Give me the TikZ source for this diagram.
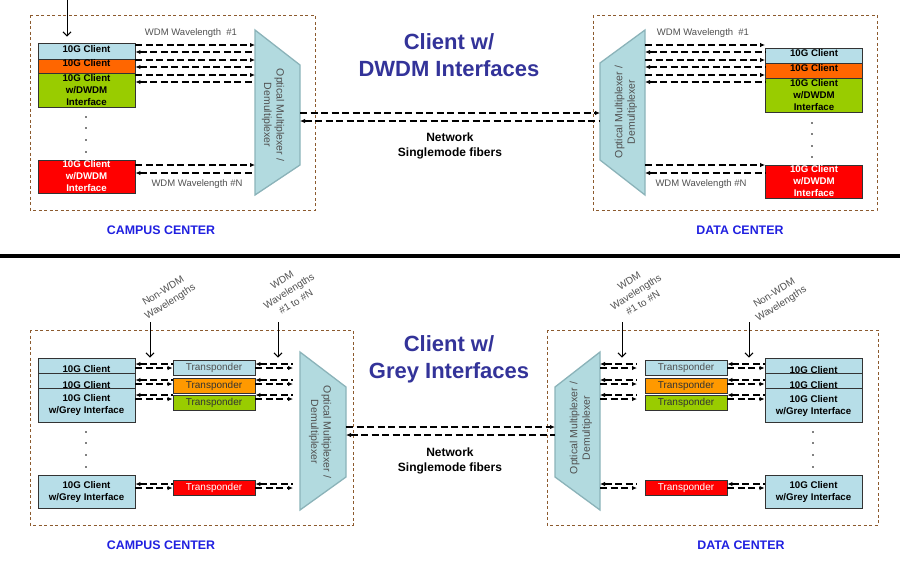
\documentclass[tikz,border=0pt]{standalone}
\usepackage{fontspec}
\setmainfont{Liberation Sans}
\usetikzlibrary{arrows,arrows.meta,calc}
\definecolor{ltblue}{HTML}{B7DEE8}
\definecolor{orngA}{HTML}{FF6600}
\definecolor{orngB}{HTML}{FF9900}
\definecolor{lime}{HTML}{99CC00}
\definecolor{redbox}{HTML}{FF0000}
\definecolor{muxfill}{HTML}{B2DADF}
\definecolor{muxline}{HTML}{8BB3B9}
\definecolor{siteline}{HTML}{8C5A2E}
\definecolor{titleblue}{HTML}{333399}
\definecolor{siteblue}{HTML}{2020E0}
\definecolor{txtgrey}{HTML}{505050}
\tikzset{
  cbox/.style={draw=black!80, line width=0.9pt, minimum width=97pt, inner sep=0pt,
    align=center, font=\fontsize{9.7}{12}\selectfont\bfseries},
  ctxt/.style={inner sep=0pt, font=\fontsize{9.7}{12}\selectfont\bfseries},
  tbox/.style={draw=black!80, line width=0.9pt, minimum width=82pt, minimum height=15pt,
    inner sep=0pt, font=\fontsize{10}{11}\selectfont},
  mux/.style={draw=muxline, fill=muxfill, line width=1.3pt},
  mtxt/.style={text=txtgrey, align=center, inner sep=0pt, font=\fontsize{10.5}{12.5}\selectfont},
  site/.style={draw=siteline, dash pattern=on 3pt off 2.5pt, line width=1pt},
  fib/.style={dash pattern=on 7pt off 3.5pt, line width=1.1pt},
  lbl/.style={text=txtgrey, inner sep=0pt, align=center, font=\fontsize{9.5}{11}\selectfont},
  rlbl/.style={text=txtgrey, inner sep=0pt, align=center, font=\fontsize{10}{13}\selectfont},
  ttl/.style={text=titleblue, align=center, font=\fontsize{22}{27}\selectfont\bfseries},
  net/.style={align=center, font=\fontsize{12}{15}\selectfont\bfseries},
  sitelbl/.style={text=siteblue, font=\fontsize{12.4}{14}\selectfont\bfseries},
  down/.style={-{Straight Barb[length=4pt,width=8pt]}, line width=1pt}
}
\begin{document}
\begin{tikzpicture}[x=1pt,y=-1pt,>={Latex[length=5pt,width=4.5pt]}]
  \useasboundingbox (0,0) rectangle (900,560);
  % ===== client w/ DWDM interfaces
  \draw[site] (30,15) rectangle (315,210);
  \draw[site] (593,15) rectangle (877,210);
  % campus side
  \node[cbox, fill=ltblue, minimum height=19pt] (dA) at (86.5,52.5) {};
  \node[ctxt] (dAt) at ([yshift=3.5pt]dA.center) {10G Client};
  \node[cbox, fill=orngA, minimum height=14pt] (dB) at (86.5,66) {};
  \node[ctxt] (dBt) at ([yshift=3pt]dB.center) {10G Client};
  \node[cbox, fill=lime, minimum height=34pt] (dC) at (86.5,90) {10G Client\\w/DWDM\\Interface};
  \node[cbox, fill=redbox, text=white, minimum height=33pt] (dD) at (86.5,176.5) {10G Client\\w/DWDM\\Interface};
  \foreach \y in {117,128,140,152} \fill (86,\y) circle (0.8);
  \draw[mux] (255,30) -- (300,65) -- (300,165) -- (255,195) -- cycle;
  \coordinate (mxAw) at (255,112); \coordinate (mxAe) at (300,115);
  \node[mtxt, rotate=-90] (mxAt) at (273,115) {Optical Multiplexer /\\Demultiplexer};
  \coordinate (topIn) at (67,0);
  \draw[down, shorten >=6pt] (topIn) -- (topIn |- dA.north);
  \foreach \y in {45,60,75} \draw[fib,->] (dA.east |- 0,\y) -- (mxAw |- 0,\y);
  \foreach \y in {52,67,82} \draw[fib,<-] (dA.east |- 0,\y) -- (mxAw |- 0,\y);
  \draw[fib,->] (dD.east |- 0,165) -- (mxAw |- 0,165);
  \draw[fib,<-] (dD.east |- 0,173) -- (mxAw |- 0,173);
  \node[lbl] (wlA1) at (191,33) {WDM Wavelength \ \#1};
  \node[lbl] (wlAN) at (197,184) {WDM Wavelength \#N};
  % data center side
  \node[cbox, fill=ltblue, minimum height=15pt] (eA) at (814,55.5) {};
  \node[ctxt] (eAt) at ([yshift=2.5pt]eA.center) {10G Client};
  \node[cbox, fill=orngA, minimum height=15pt] (eB) at (814,70.5) {};
  \node[ctxt] (eBt) at ([yshift=2.5pt]eB.center) {10G Client};
  \node[cbox, fill=lime, minimum height=34pt] (eC) at (814,95) {10G Client\\w/DWDM\\Interface};
  \node[cbox, fill=redbox, text=white, minimum height=33pt] (eD) at (814,181.5) {10G Client\\w/DWDM\\Interface};
  \foreach \y in {123,134,146,157} \fill (812,\y) circle (0.8);
  \draw[mux] (600,63) -- (645,30) -- (645,195) -- (600,160) -- cycle;
  \coordinate (mxBw) at (600,112); \coordinate (mxBe) at (645,112);
  \node[mtxt, rotate=90] (mxBt) at (626,112) {Optical Multiplexer /\\Demultiplexer};
  \foreach \y in {45,60,75} \draw[fib,->] (mxBe |- 0,\y) -- (eA.west |- 0,\y);
  \foreach \y in {52,67,82} \draw[fib,<-] (mxBe |- 0,\y) -- (eA.west |- 0,\y);
  \draw[fib,->] (mxBe |- 0,165) -- (eD.west |- 0,165);
  \draw[fib,<-] (mxBe |- 0,173) -- (eD.west |- 0,173);
  \node[lbl] (wlB1) at (703,33) {WDM Wavelength \ \#1};
  \node[lbl] (wlBN) at (701,184) {WDM Wavelength \#N};
  % network
  \draw[fib,->] (mxAe |- 0,113) -- (mxBw |- 0,113);
  \draw[fib,<-] (mxAe |- 0,121) -- (mxBw |- 0,121);
  \node[ttl] (ttlA) at (449,55) {Client w/\\DWDM Interfaces};
  \node[net] (netA) at (450,145.5) {Network\\Singlemode fibers};
  \node[sitelbl] (campA) at (161,230) {CAMPUS CENTER};
  \node[sitelbl] (dataA) at (740,230) {DATA CENTER};
  % ===== separator
  \draw[line width=4pt] (0,255.5) -- (900,255.5);
  % ===== client w/ grey interfaces
  \draw[site] (30,330) rectangle (353,525);
  \draw[site] (547,330) rectangle (878,525);
  % campus side
  \node[cbox, fill=ltblue, minimum height=15pt] (gA) at (86.5,365.5) {};
  \node[ctxt] (gAt) at ([yshift=-3.5pt]gA.center) {10G Client};
  \node[cbox, fill=ltblue, minimum height=15pt] (gB) at (86.5,380.5) {};
  \node[ctxt] (gBt) at ([yshift=-4.5pt]gB.center) {10G Client};
  \node[cbox, fill=ltblue, minimum height=34pt] (gC) at (86.5,405) {10G Client\\w/Grey Interface};
  \node[cbox, fill=ltblue, minimum height=33pt] (gD) at (86.5,491.5) {10G Client\\w/Grey Interface};
  \foreach \y in {432,443,455,467} \fill (86,\y) circle (0.8);
  \node[tbox, fill=ltblue, text=txtgrey] (tA) at (214,367.5) {Transponder};
  \node[tbox, fill=orngB, text=black!80] (tB) at (214,385.5) {Transponder};
  \node[tbox, fill=lime, text=black!80] (tC) at (214,403) {Transponder};
  \node[tbox, fill=redbox, text=white] (tD) at (214,487.5) {Transponder};
  \draw[mux] (300,352) -- (346,387) -- (346,477) -- (300,510) -- cycle;
  \coordinate (mxCin) at (293,430); \coordinate (mxCe) at (346,430);
  \node[mtxt, rotate=-90] (mxCt) at (320,432) {Optical Multiplexer /\\Demultiplexer};
  \foreach \c/\t/\y in {gA/tA/364,gB/tB/380,gC/tC/395,gD/tD/484}{
    \draw[fib,<-] (\c.east |- 0,\y) -- (\t.west |- 0,\y);
    \draw[fib,->] (\c.east |- 0,\y+4) -- (\t.west |- 0,\y+4);
    \draw[fib,<-] (\t.east |- 0,\y) -- (mxCin |- 0,\y);
    \draw[fib,->] (\t.east |- 0,\y+4) -- (mxCin |- 0,\y+4);
  }
  \node[rlbl, rotate=32] (nwLt) at (167,297) {Non-WDM\\Wavelengths};
  \node[rlbl, rotate=32] (wdLt) at (289,291) {WDM\\Wavelengths\\\#1 to \#N};
  \coordinate (nwL) at (150,322); \coordinate (wdL) at (278,322);
  \draw[down, shorten >=2pt] (nwL) -- (nwL |- tA.north);
  \draw[down, shorten >=2pt] (wdL) -- (wdL |- tA.north);
  % data center side
  \node[cbox, fill=ltblue, minimum height=15pt] (hA) at (813.5,366) {};
  \node[ctxt] (hAt) at ([yshift=-4pt]hA.center) {10G Client};
  \node[cbox, fill=ltblue, minimum height=15pt] (hB) at (813.5,380.5) {};
  \node[ctxt] (hBt) at ([yshift=-4.5pt]hB.center) {10G Client};
  \node[cbox, fill=ltblue, minimum height=34pt] (hC) at (813.5,405.5) {10G Client\\w/Grey Interface};
  \node[cbox, fill=ltblue, minimum height=33pt] (hD) at (813.5,491.5) {10G Client\\w/Grey Interface};
  \foreach \y in {432,443,455,467} \fill (813,\y) circle (0.8);
  \node[tbox, fill=ltblue, text=txtgrey] (sA) at (686,367.5) {Transponder};
  \node[tbox, fill=orngB, text=black!80] (sB) at (686,385.5) {Transponder};
  \node[tbox, fill=lime, text=black!80] (sC) at (686,403) {Transponder};
  \node[tbox, fill=redbox, text=white] (sD) at (686,487.5) {Transponder};
  \draw[mux] (555,387) -- (600,352) -- (600,510) -- (555,477) -- cycle;
  \coordinate (mxDw) at (555,430); \coordinate (mxDe) at (600,430);
  \coordinate (mxDout) at (637,430);
  \node[mtxt, rotate=90] (mxDt) at (581,428) {Optical Multiplexer /\\Demultiplexer};
  \foreach \c/\t/\y in {hA/sA/364,hB/sB/380,hC/sC/395,hD/sD/484}{
    \draw[fib,<-] (mxDe |- 0,\y) -- (mxDout |- 0,\y);
    \draw[fib,->] (mxDe |- 0,\y+4) -- (mxDout |- 0,\y+4);
    \draw[fib,<-] (\t.east |- 0,\y) -- (\c.west |- 0,\y);
    \draw[fib,->] (\t.east |- 0,\y+4) -- (\c.west |- 0,\y+4);
  }
  \node[rlbl, rotate=32] (wdRt) at (636,292) {WDM\\Wavelengths\\\#1 to \#N};
  \node[rlbl, rotate=32] (nwRt) at (778,299) {Non-WDM\\Wavelengths};
  \coordinate (wdR) at (622,322); \coordinate (nwR) at (749,322);
  \draw[down, shorten >=2pt] (wdR) -- (wdR |- sA.north);
  \draw[down, shorten >=2pt] (nwR) -- (nwR |- sA.north);
  % network
  \draw[fib,->] (mxCe |- 0,427) -- (mxDw |- 0,427);
  \draw[fib,<-] (mxCe |- 0,435) -- (mxDw |- 0,435);
  \node[ttl] (ttlB) at (449,359) {Client w/\\Grey Interfaces};
  \node[net] (netB) at (450,460.5) {Network\\Singlemode fibers};
  \node[sitelbl] (campB) at (161,545) {CAMPUS CENTER};
  \node[sitelbl] (dataB) at (741,545) {DATA CENTER};
\end{tikzpicture}
\end{document}
